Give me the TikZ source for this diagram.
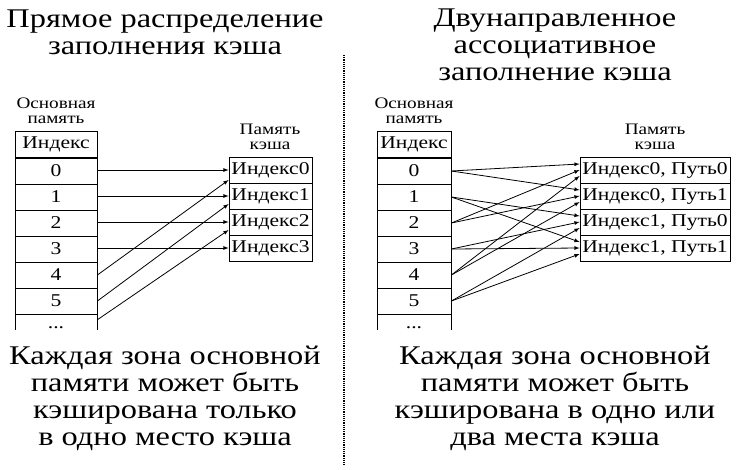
\documentclass[tikz,border=0pt]{standalone}
\usepackage{fontspec}
\setmainfont[FakeStretch=1.2]{Liberation Serif}
\usetikzlibrary{positioning}
\tikzset{
  cell/.style={draw, thick, minimum height=26pt, inner sep=0pt, font=\fontsize{18}{18}\selectfont},
  title/.style={align=center, font=\fontsize{27}{27}\selectfont},
  small/.style={align=center, font=\fontsize{16}{15}\selectfont},
  link/.style={-latex, thick},
}
\begin{document}
\begin{tikzpicture}[x=1pt, y=-1pt]
  \useasboundingbox (0,0) rectangle (743,469);
  % titles
  \node[title] at (165,32) {Прямое распределение\\заполнения кэша};
  \node[title] at (555,45) {Двунаправленное\\ассоциативное\\заполнение кэша};
  \draw[densely dotted, very thick] (344,55) -- (344,465);
  % left: main memory
  \node[small] at (56,111) {Основная\\память};
  \node[cell, minimum width=82pt] (Lh) at (56,144.5) {Индекс};
  \foreach \i in {0,...,5}
    \node[cell, minimum width=82pt] (L\i) at (56,171+26*\i) {\i};
  \draw[thick] (15,314) -- (15,330) (97,314) -- (97,330);
  \coordinate (L6) at (97,320);
  \node[cell, draw=none] at (56,328) {...};
  % left: cache
  \node[small] at (270,137) {Память\\кэша};
  \foreach \i in {0,...,3}
    \node[cell, minimum width=83pt] (Lc\i) at (270.5,170+26*\i) {Индекс\i};
  \foreach \i in {0,...,3}
    \draw[link] (L\i.east |- Lc\i) -- (Lc\i.west);
  \draw[link] (L4.east) -- ([yshift=-10pt]Lc0.west);
  \draw[link] (L5.east) -- ([yshift=-8pt]Lc1.west);
  \draw[link] (L6) -- ([yshift=-8pt]Lc2.west);
  % right: main memory
  \node[small] at (414,111) {Основная\\память};
  \node[cell, minimum width=74pt] (Rh) at (414,144.5) {Индекс};
  \foreach \i in {0,...,5}
    \node[cell, minimum width=74pt] (R\i) at (414,171+26*\i) {\i};
  \draw[thick] (377,314) -- (377,330) (451,314) -- (451,330);
  \node[cell, draw=none] at (414,328) {...};
  % right: cache
  \node[small] at (655,137) {Память\\кэша};
  \node[cell, minimum width=150pt] (Rc0) at (655,170) {Индекс0, Путь0};
  \node[cell, minimum width=150pt] (Rc1) at (655,196) {Индекс0, Путь1};
  \node[cell, minimum width=150pt] (Rc2) at (655,222) {Индекс1, Путь0};
  \node[cell, minimum width=150pt] (Rc3) at (655,248) {Индекс1, Путь1};
  \foreach \s/\a/\b/\o in {0/0/1/6, 2/0/1/0, 4/0/1/-6, 1/2/3/6, 3/2/3/0, 5/2/3/-6} {
    \draw[link] (R\s.east) -- ([yshift=\o pt]Rc\a.west);
    \draw[link] (R\s.east) -- ([yshift=\o pt]Rc\b.west);
  }
  % captions
  \node[title] at (165,398) {Каждая зона основной\\памяти может быть\\кэширована только\\в одно место кэша};
  \node[title] at (555,398) {Каждая зона основной\\памяти может быть\\кэширована в одно или\\два места кэша};
\end{tikzpicture}
\end{document}
